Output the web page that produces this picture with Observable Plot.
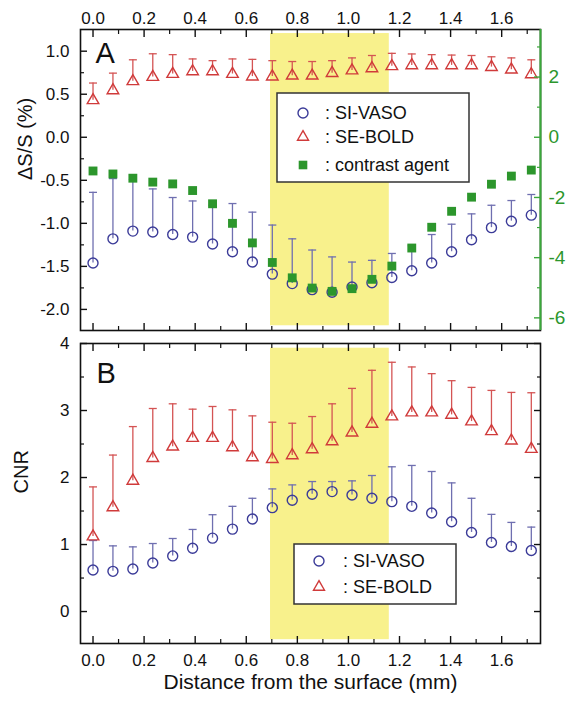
<!DOCTYPE html>
<html><head><meta charset="utf-8">
<script src="https://cdn.jsdelivr.net/npm/d3@7"></script>
<script src="https://cdn.jsdelivr.net/npm/@observablehq/plot@0.6"></script>
<style>
body{margin:0;background:#fff;font-family:"Liberation Sans",Arial,sans-serif;}
#wrap{position:relative;width:569px;height:701px;overflow:hidden;}
#wrap svg{position:absolute;left:0;}
</style></head><body><div id="wrap"></div>
<script>
// ---- data ----
const distance   = [0.000,0.078,0.156,0.234,0.312,0.390,0.468,0.546,0.624,0.702,0.780,0.858,0.936,1.014,1.092,1.170,1.248,1.326,1.404,1.482,1.560,1.638,1.716];
// panel A : ΔS/S (%)
const vasoDS     = [-1.46,-1.18,-1.09,-1.10,-1.13,-1.16,-1.24,-1.33,-1.45,-1.59,-1.70,-1.77,-1.80,-1.74,-1.69,-1.63,-1.55,-1.46,-1.33,-1.19,-1.05,-0.975,-0.905];
const vasoDSErr  = [0.82,0.70,0.60,0.50,0.43,0.42,0.45,0.56,0.58,0.57,0.52,0.46,0.41,0.29,0.26,0.28,0.29,0.33,0.32,0.30,0.26,0.24,0.24];
const boldDS     = [0.43,0.545,0.65,0.70,0.735,0.765,0.765,0.735,0.705,0.705,0.715,0.715,0.745,0.775,0.80,0.825,0.835,0.835,0.835,0.835,0.815,0.785,0.73];
const boldDSErr  = [0.20,0.20,0.25,0.27,0.225,0.145,0.125,0.175,0.20,0.185,0.165,0.165,0.145,0.147,0.15,0.15,0.133,0.125,0.12,0.115,0.12,0.137,0.17];
// contrast agent, right axis units
const agentDS    = [-1.12,-1.22,-1.36,-1.49,-1.55,-1.77,-2.21,-2.86,-3.51,-4.16,-4.67,-5.01,-5.12,-5.03,-4.72,-4.28,-3.68,-2.99,-2.46,-1.99,-1.56,-1.29,-1.09];
// panel B : CNR
const vasoCNR    = [0.62,0.60,0.635,0.725,0.83,0.945,1.095,1.23,1.38,1.55,1.66,1.75,1.79,1.74,1.69,1.64,1.57,1.47,1.34,1.18,1.03,0.97,0.91];
const vasoCNRErr = [0.44,0.38,0.33,0.29,0.26,0.28,0.35,0.34,0.31,0.28,0.23,0.19,0.15,0.21,0.34,0.52,0.61,0.62,0.58,0.51,0.42,0.36,0.35];
const boldCNR    = [1.12,1.555,1.95,2.29,2.46,2.59,2.59,2.45,2.30,2.275,2.33,2.42,2.54,2.67,2.80,2.91,2.97,2.97,2.935,2.835,2.69,2.55,2.425];
const boldCNRErr = [0.74,0.78,0.81,0.74,0.64,0.43,0.47,0.56,0.62,0.55,0.48,0.49,0.56,0.66,0.80,0.81,0.68,0.58,0.51,0.51,0.61,0.72,0.84];
// ticks
const xTicks     = [0,0.2,0.4,0.6,0.8,1.0,1.2,1.4,1.6];
const xMinor     = [0.1,0.3,0.5,0.7,0.9,1.1,1.3,1.5,1.7];
const dsTicks    = [-2,-1.5,-1,-0.5,0,0.5,1];
const dsMinor    = [-1.75,-1.25,-0.75,-0.25,0.25,0.75];
const agentTicks = [-6,-4,-2,0,2];
const agentMinor = [-5,-3,-1,1,3];
const cnrTicks   = [0,1,2,3,4];
const cnrMinor   = [0.5,1.5,2.5,3.5];
// domains and shaded band
const xDomain    = [-0.049, 1.752];
const dsDomain   = [-2.245, 1.252];
const agentDomain= [-6.42, 3.58];
const cnrDomain  = [-0.477, 4.0];
const shadeX     = [0.695, 1.16];
const shadeDS    = [-2.19, 1.205];
const shadeCNR   = [-0.42, 3.93];

// ---- styles ----
const blue="#3b3b98", blueBar="#6f6fb0", red="#d03a3a", redBar="#d45454";
const green="#2c962c", greenAxis="#3aa83a", yellow="#f8f18c";
const FONT='"Liberation Sans", Arial, sans-serif';
const capSymbol = {draw(ctx,size){const r=Math.sqrt(size/Math.PI);ctx.moveTo(-r,0);ctx.lineTo(r,0);}};

const rowsA = distance.map((x,i)=>({x, vaso:vasoDS[i], vasoHi:vasoDS[i]+vasoDSErr[i], bold:boldDS[i], boldHi:boldDS[i]+boldDSErr[i], agent:agentDS[i]}));
const rowsB = distance.map((x,i)=>({x, vaso:vasoCNR[i], vasoHi:vasoCNR[i]+vasoCNRErr[i], bold:boldCNR[i], boldHi:boldCNR[i]+boldCNRErr[i]}));

function xTickMarks(){
  return [
    Plot.axisX(xTicks,{anchor:"top",tickSize:7,dy:7,fill:"none",label:null,strokeWidth:1.4}),
    Plot.axisX(xMinor,{anchor:"top",tickSize:4,dy:4,fill:"none",label:null,strokeWidth:1.2}),
    Plot.axisX(xTicks,{anchor:"bottom",tickSize:7,dy:-7,fill:"none",label:null,strokeWidth:1.4}),
    Plot.axisX(xMinor,{anchor:"bottom",tickSize:4,dy:-4,fill:"none",label:null,strokeWidth:1.2})
  ];
}
function series(rows){
  return [
    Plot.ruleX(rows,{x:"x",y1:"vaso",y2:"vasoHi",stroke:blueBar,strokeWidth:1.3}),
    Plot.dot(rows,{x:"x",y:"vasoHi",symbol:capSymbol,r:4,stroke:blueBar,strokeWidth:1.3}),
    Plot.ruleX(rows,{x:"x",y1:"bold",y2:"boldHi",stroke:redBar,strokeWidth:1.3}),
    Plot.dot(rows,{x:"x",y:"boldHi",symbol:capSymbol,r:4,stroke:redBar,strokeWidth:1.3}),
    Plot.dot(rows,{x:"x",y:"vaso",symbol:"circle",r:5,stroke:blue,strokeWidth:1.4,fill:"none"}),
    Plot.dot(rows,{x:"x",y:"bold",symbol:"triangle",r:4.3,stroke:red,strokeWidth:1.4,fill:"none"})
  ];
}

const wrap = document.getElementById("wrap");
const common = {width:569, marginLeft:80, marginRight:29, style:{fontFamily:FONT, fontSize:"17px", background:"transparent", overflow:"visible", color:"#111"}};

// ---- panel A ----
const plotA = Plot.plot({...common, height:331, marginTop:29, marginBottom:1,
  x:{domain:xDomain}, y:{domain:dsDomain},
  marks:[
    Plot.rect([shadeX],{x1:d=>d[0],x2:d=>d[1],y1:shadeDS[0],y2:shadeDS[1],fill:yellow}),
    ...series(rowsA),
    Plot.frame({stroke:"#111",strokeWidth:1.6}),
    ...xTickMarks(),
    Plot.axisX(xTicks,{anchor:"top",tickSize:0,tickPadding:6,tickFormat:d=>d.toFixed(1),fontSize:17,label:null}),
    Plot.axisY(dsTicks,{anchor:"left",tickSize:7,dx:7,fill:"none",label:null,strokeWidth:1.4}),
    Plot.axisY(dsMinor,{anchor:"left",tickSize:4,dx:4,fill:"none",label:null,strokeWidth:1.2}),
    Plot.axisY(dsTicks,{anchor:"left",tickSize:0,tickPadding:11,tickFormat:d=>d.toFixed(1),fontSize:17,label:null}),
    Plot.text(["ΔS/S (%)"],{frameAnchor:"left",dx:-55,rotate:-90,fontSize:20}),
    Plot.text(["A"],{frameAnchor:"top-left",dx:15,dy:13,lineAnchor:"top",textAnchor:"start",fontSize:29})
  ]});
plotA.style.top="0px";
wrap.appendChild(plotA);

// ---- contrast agent overlay (right axis) ----
const plotA2 = Plot.plot({...common, height:331, marginTop:29, marginBottom:1,
  x:{domain:xDomain, axis:null}, y:{domain:agentDomain, axis:null},
  marks:[
    Plot.ruleX([xDomain[1]],{stroke:greenAxis,strokeWidth:2}),
    Plot.dot(rowsA,{x:"x",y:"agent",symbol:"square",r:5,fill:green}),
    Plot.axisY(agentTicks,{anchor:"right",tickSize:7,dx:-7,fill:"none",label:null,stroke:greenAxis,strokeWidth:1.4}),
    Plot.axisY(agentMinor,{anchor:"right",tickSize:4,dx:-4,fill:"none",label:null,stroke:greenAxis,strokeWidth:1.2}),
    Plot.axisY(agentTicks,{anchor:"right",tickSize:0,tickPadding:8,tickFormat:d=>String(d),fontSize:19,fill:green,label:null})
  ]});
plotA2.style.top="0px";
wrap.appendChild(plotA2);

// ---- panel B ----
const plotB = Plot.plot({...common, height:371, marginTop:13, marginBottom:58,
  x:{domain:xDomain}, y:{domain:cnrDomain},
  marks:[
    Plot.rect([shadeX],{x1:d=>d[0],x2:d=>d[1],y1:shadeCNR[0],y2:shadeCNR[1],fill:yellow}),
    ...series(rowsB),
    Plot.frame({stroke:"#111",strokeWidth:1.6}),
    ...xTickMarks(),
    Plot.axisX(xTicks,{anchor:"bottom",tickSize:0,tickPadding:10,tickFormat:d=>d.toFixed(1),fontSize:17,label:null}),
    Plot.axisY(cnrTicks,{anchor:"left",tickSize:7,dx:7,fill:"none",label:null,strokeWidth:1.4}),
    Plot.axisY(cnrMinor,{anchor:"left",tickSize:4,dx:4,fill:"none",label:null,strokeWidth:1.2}),
    Plot.axisY(cnrTicks,{anchor:"right",tickSize:7,dx:-7,fill:"none",label:null,strokeWidth:1.4}),
    Plot.axisY(cnrMinor,{anchor:"right",tickSize:4,dx:-4,fill:"none",label:null,strokeWidth:1.2}),
    Plot.axisY(cnrTicks,{anchor:"left",tickSize:0,tickPadding:11,tickFormat:d=>String(d),fontSize:17,label:null}),
    Plot.text(["CNR"],{frameAnchor:"left",dx:-59,rotate:-90,fontSize:20}),
    Plot.text(["Distance from the surface (mm)"],{frameAnchor:"bottom",dy:45,fontSize:21}),
    Plot.text(["B"],{frameAnchor:"top-left",dx:16,dy:19,lineAnchor:"top",textAnchor:"start",fontSize:29})
  ]});
plotB.style.top="330px";
wrap.appendChild(plotB);

// ---- legends (decoration overlays) ----
function legend(left, top, w, h, items){
  const ns="http://www.w3.org/2000/svg";
  const svg=document.createElementNS(ns,"svg");
  svg.setAttribute("width",w+2); svg.setAttribute("height",h+2);
  svg.style.left=(left-1)+"px"; svg.style.top=(top-1)+"px";
  let s=`<rect x="1" y="1" width="${w}" height="${h}" fill="#fff" stroke="#333" stroke-width="1.5"/>`;
  for(const it of items){
    const cx=it.cx+1, cy=it.cy+1;
    if(it.sym==="circle") s+=`<circle cx="${cx}" cy="${cy}" r="5" fill="none" stroke="${blue}" stroke-width="1.4"/>`;
    if(it.sym==="triangle") s+=`<path d="M${cx},${cy-6.3}L${cx+5.5},${cy+3.2}L${cx-5.5},${cy+3.2}Z" fill="none" stroke="${red}" stroke-width="1.4"/>`;
    if(it.sym==="square") s+=`<rect x="${cx-4.3}" y="${cy-4.3}" width="8.6" height="8.6" fill="${green}"/>`;
    s+=`<text x="${it.tx+1}" y="${cy}" dominant-baseline="central" font-family='${FONT}' font-size="18" fill="#111">${it.label}</text>`;
  }
  svg.innerHTML=s;
  wrap.appendChild(svg);
}
legend(277,93,192,89,[
  {sym:"circle",cx:26,cy:20,tx:48,label:": SI-VASO"},
  {sym:"triangle",cx:26,cy:44,tx:48,label:": SE-BOLD"},
  {sym:"square",cx:26,cy:72,tx:48,label:": contrast agent"}
]);
legend(294,544,162,60,[
  {sym:"circle",cx:25,cy:17,tx:49,label:": SI-VASO"},
  {sym:"triangle",cx:25,cy:43,tx:49,label:": SE-BOLD"}
]);
</script></body></html>
